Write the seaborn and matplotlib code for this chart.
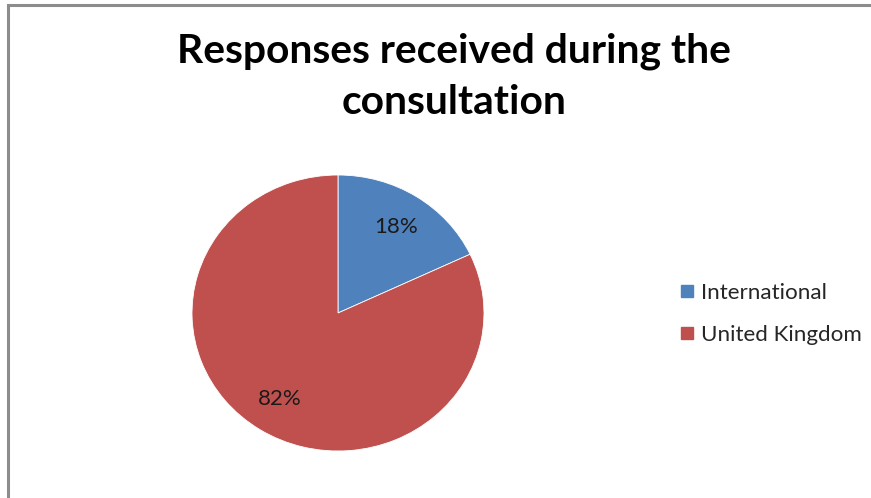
import matplotlib
matplotlib.use("Agg")
import matplotlib.pyplot as plt
import seaborn as sns
from matplotlib.patches import Rectangle
from matplotlib.lines import Line2D

categories = ["International", "United Kingdom"]
values = [18, 82]
colors = ["#4F81BD", "#C0504D"]
title = "Responses received during the\nconsultation"

sns.set_theme(style="white")
plt.rcParams['font.family'] = ['Lato', 'DejaVu Sans']

W, H = 871, 498
fig = plt.figure(figsize=(W / 100, H / 100), dpi=100)
fig.patch.set_facecolor("white")

# frame border (cut off at right and bottom)
fig.patches.append(Rectangle((8 / W, -0.1), 1.2, (H - 5) / H + 0.1,
                             transform=fig.transFigure, fill=False,
                             edgecolor="#8c8c8c", linewidth=2.2))

# pie axes (slightly elliptical as in reference)
left, right, top, bottom = 192, 484, 175, 451
ax = fig.add_axes([left / W, (H - bottom) / H, (right - left) / W, (bottom - top) / H])
wedges, texts, autotexts = ax.pie(values, colors=colors, startangle=90, counterclock=False,
                                  autopct="%d%%", pctdistance=0.74,
                                  wedgeprops=dict(edgecolor="white", linewidth=0.6),
                                  textprops=dict(fontsize=16, color="#1a1a1a"))
ax.set_aspect("auto")
ax.set_xlim(-1, 1)
ax.set_ylim(-1, 1)
ax.axis("off")

fig.text(454 / W, 1 - 77 / H, title, ha="center", va="center", fontsize=29.3,
         fontweight="bold", color="black", linespacing=1.45)

handles = [Line2D([], [], marker="s", linestyle="none", markersize=8.8,
                  markerfacecolor=c, markeredgecolor=c) for c in colors]
leg = fig.legend(handles, categories, loc="center left",
                 bbox_to_anchor=(655.5 / W, 1 - 314 / H), frameon=False,
                 fontsize=16.1, handletextpad=0.12, labelspacing=1.0,
                 handlelength=1.0)
for t in leg.get_texts():
    t.set_color("#262626")

fig.savefig("out.png", dpi=100, facecolor="white")
